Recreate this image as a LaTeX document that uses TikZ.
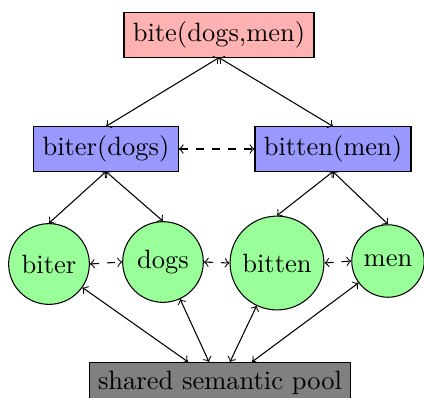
\documentclass[tikz,border=0pt]{standalone}
\begin{document}
\begin{tikzpicture}[x=0.3774pt,y=-0.3774pt,
  topbox/.style={draw,fill=red!30},
  midbox/.style={draw,fill=blue!40},
  word/.style={draw,circle,fill=green!40},
  poolbox/.style={draw,fill=black!50},
  link/.style={<->},
  dlink/.style={<->,dashed}]
\useasboundingbox (0,0) rectangle (424,397);
\node[topbox] (top) at (219,35) {bite(dogs,men)};
\node[midbox] (bd) at (106,149) {biter(dogs)};
\node[midbox] (bm) at (333,149) {bitten(men)};
\node[word] (biter) at (49,264) {biter};
\node[word] (dogs) at (163,262) {dogs};
\node[word] (bitten) at (277,263) {bitten};
\node[word] (men) at (388,261) {men};
\node[poolbox] (pool) at (220,383) {shared semantic pool};
\coordinate (p1) at ([xshift=-32*0.3774pt]pool.north);
\coordinate (p2) at ([xshift=-11*0.3774pt]pool.north);
\coordinate (p3) at ([xshift=10*0.3774pt]pool.north);
\coordinate (p4) at ([xshift=32*0.3774pt]pool.north);
\draw[link] (top.south) -- (bd.north);
\draw[link] (top.south) -- (bm.north);
\draw[dlink] (bd.east) -- (bm.west);
\draw[link] (bd.south) -- (biter.north);
\draw[link] (bd.south) -- (dogs.north);
\draw[link] (bm.south) -- (bitten.north);
\draw[link] (bm.south) -- (men.north);
\draw[dlink] (biter.east) -- (dogs.west);
\draw[dlink] (dogs.east) -- (bitten.west);
\draw[dlink] (bitten.east) -- (men.west);
\draw[link] (biter) -- (p1);
\draw[link] (dogs) -- (p2);
\draw[link] (bitten) -- (p3);
\draw[link] (men) -- (p4);
\end{tikzpicture}
\end{document}
